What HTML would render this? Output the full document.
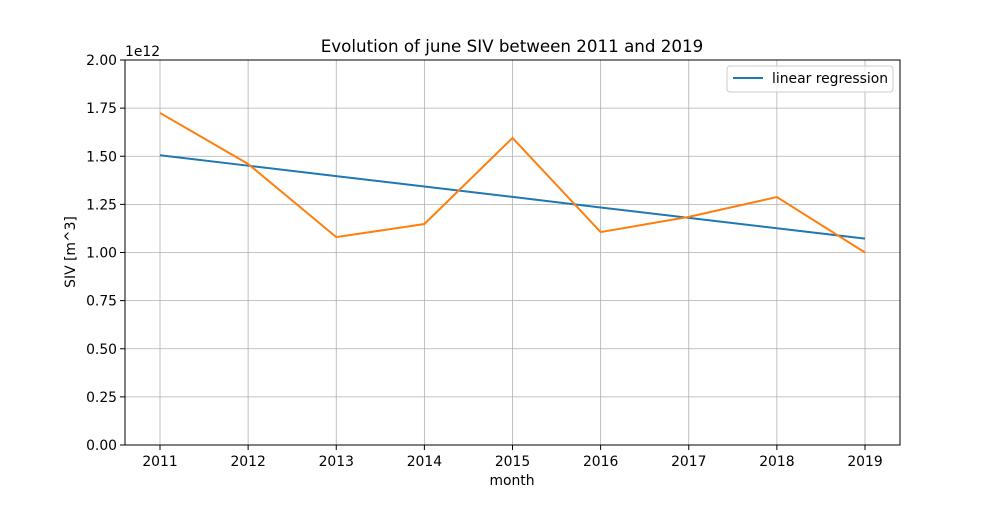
<!DOCTYPE html>
<html><head><meta charset="utf-8"><style>
body{margin:0;background:#fff}
svg text{font-family:"DejaVu Sans","Liberation Sans",sans-serif;fill:#000}
</style></head><body>
<svg id="chart" width="1000" height="500" xmlns="http://www.w3.org/2000/svg">
<rect width="1000" height="500" fill="#fff"/>
<g id="grid"></g>
<g id="ticks"></g>
<g id="series"></g>
<rect x="125" y="60" width="775" height="385" fill="none" stroke="#000" stroke-width="1"/>
<text x="512" y="52" font-size="16.7" text-anchor="middle">Evolution of june SIV between 2011 and 2019</text>
<text x="512" y="485" font-size="13.9" text-anchor="middle">month</text>
<text x="0" y="0" font-size="13.9" text-anchor="middle" transform="translate(75,252) rotate(-90)">SIV [m^3]</text>
<text x="125" y="56" font-size="13.9">1e12</text>
<g>
<rect x="727" y="66" width="166" height="26" rx="3" fill="#fff" fill-opacity="0.8" stroke="#ccc"/>
<line x1="733" y1="78" x2="763" y2="78" stroke="#1f77b4" stroke-width="2"/>
<text x="772" y="83" font-size="13.9">linear regression</text>
</g>
</svg>
<script>
const years=[2011,2012,2013,2014,2015,2016,2017,2018,2019];
const sivValues=[1.725,1.46,1.08,1.148,1.595,1.106,1.185,1.288,1.0];
const regressionValues=[1.505,1.451,1.397,1.343,1.289,1.234,1.18,1.126,1.072];
const yTicks=[0,0.25,0.5,0.75,1.0,1.25,1.5,1.75,2.0];
const yTickLabels=["0.00","0.25","0.50","0.75","1.00","1.25","1.50","1.75","2.00"];
const NS="http://www.w3.org/2000/svg";
const X=v=>160+(v-2011)*(705/8);
const Y=v=>445-v*192.5;
function mk(t,a,p){const e=document.createElementNS(NS,t);for(const k in a)e.setAttribute(k,a[k]);p.appendChild(e);return e;}
const grid=document.getElementById('grid'),ticks=document.getElementById('ticks'),series=document.getElementById('series');
years.forEach(y=>{
 const g=mk('line',{x1:X(y),x2:X(y),y1:60,y2:445,stroke:'#b0b0b0','stroke-width':0.8},grid);
 
 
 const t=mk('line',{x1:X(y),x2:X(y),y1:445,y2:450,stroke:'#000'},ticks);
 
 
 const l=mk('text',{x:X(y),y:466,'font-size':13.9,'text-anchor':'middle'},ticks);l.textContent=y;
 
 
});
yTicks.forEach((v,i)=>{
 const g=mk('line',{x1:125,x2:900,y1:Y(v),y2:Y(v),stroke:'#b0b0b0','stroke-width':0.8},grid);
 
 
 const t=mk('line',{x1:120,x2:125,y1:Y(v),y2:Y(v),stroke:'#000'},ticks);
 
 
 const l=mk('text',{x:117,y:Y(v)+5,'font-size':13.9,'text-anchor':'end'},ticks);l.textContent=yTickLabels[i];
 
 
});
const reg=mk('polyline',{points:years.map((y,i)=>X(y)+','+Y(regressionValues[i])).join(' '),fill:'none',stroke:'#1f77b4','stroke-width':2},series);


const siv=mk('polyline',{points:years.map((y,i)=>X(y)+','+Y(sivValues[i])).join(' '),fill:'none',stroke:'#ff7f0e','stroke-width':2},series);


</script>
</body></html>
